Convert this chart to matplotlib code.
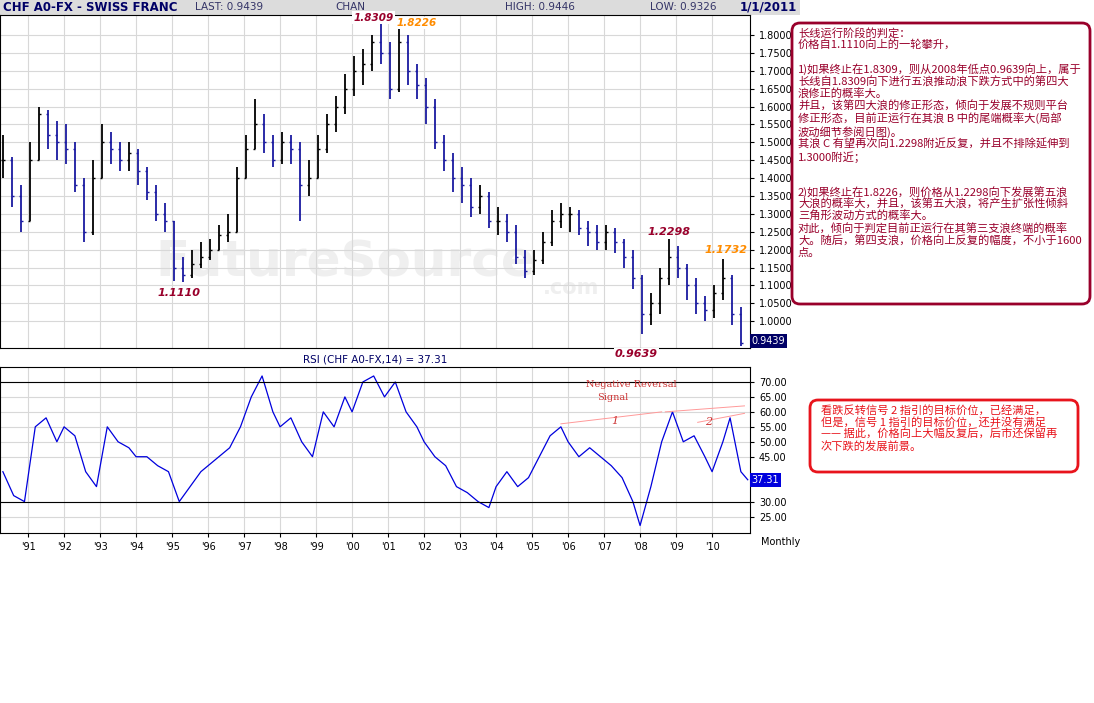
import matplotlib
matplotlib.use('Agg')
import matplotlib.pyplot as plt
from matplotlib.patches import FancyBboxPatch, Rectangle
import numpy as np

plt.rcParams['font.family'] = ['DejaVu Sans']

# quarterly price bars (time in years)
q_time = [1990.3 + 0.25 * i for i in range(83)]
q_close = [1.45, 1.35, 1.28,
           1.45, 1.58, 1.52, 1.50,
           1.48, 1.38, 1.25, 1.40,
           1.50, 1.48, 1.45, 1.47,
           1.42, 1.36, 1.30, 1.28,
           1.15, 1.13, 1.16, 1.18,
           1.20, 1.24, 1.25, 1.40,
           1.48, 1.55, 1.50, 1.45,
           1.50, 1.48, 1.38, 1.40,
           1.48, 1.55, 1.60, 1.65,
           1.70, 1.72, 1.78, 1.75,
           1.65, 1.78, 1.70, 1.66,
           1.60, 1.50, 1.45, 1.40,
           1.38, 1.32, 1.35, 1.28,
           1.28, 1.25, 1.18, 1.14,
           1.17, 1.22, 1.28, 1.30,
           1.30, 1.26, 1.25, 1.22,
           1.25, 1.22, 1.18, 1.12,
           1.02, 1.05, 1.12, 1.18,
           1.15, 1.10, 1.05, 1.03,
           1.08, 1.12, 1.02, 0.94]
q_high = [1.52, 1.46, 1.38,
          1.50, 1.60, 1.59, 1.56,
          1.55, 1.50, 1.40, 1.45,
          1.55, 1.53, 1.50, 1.50,
          1.48, 1.43, 1.38, 1.33,
          1.28, 1.18, 1.20, 1.22,
          1.23, 1.27, 1.30, 1.43,
          1.52, 1.62, 1.58, 1.52,
          1.53, 1.52, 1.50, 1.45,
          1.52, 1.58, 1.63, 1.69,
          1.74, 1.76, 1.80, 1.8309,
          1.78, 1.8226, 1.80, 1.72,
          1.68, 1.62, 1.52, 1.47,
          1.43, 1.40, 1.38, 1.36,
          1.32, 1.30, 1.27, 1.20,
          1.20, 1.25, 1.31, 1.33,
          1.32, 1.31, 1.28, 1.27,
          1.27, 1.26, 1.23, 1.20,
          1.13, 1.08, 1.15, 1.2298,
          1.21, 1.16, 1.12, 1.07,
          1.10, 1.1732, 1.13, 1.04]
q_low = [1.40, 1.32, 1.25,
         1.28, 1.45, 1.48, 1.45,
         1.44, 1.36, 1.22, 1.24,
         1.40, 1.44, 1.42, 1.42,
         1.38, 1.34, 1.28, 1.25,
         1.1110, 1.11, 1.12, 1.15,
         1.17, 1.20, 1.22, 1.25,
         1.40, 1.48, 1.47, 1.43,
         1.44, 1.44, 1.28, 1.35,
         1.40, 1.47, 1.53, 1.58,
         1.63, 1.66, 1.70, 1.72,
         1.62, 1.64, 1.66, 1.62,
         1.55, 1.48, 1.42, 1.36,
         1.33, 1.29, 1.30, 1.26,
         1.24, 1.22, 1.16, 1.12,
         1.13, 1.16, 1.21, 1.26,
         1.25, 1.24, 1.21, 1.20,
         1.20, 1.19, 1.15, 1.09,
         0.9639, 0.99, 1.02, 1.10,
         1.12, 1.06, 1.02, 1.00,
         1.01, 1.06, 0.99, 0.93]

rsi_time = [1990.3, 1990.6, 1990.9, 1991.2, 1991.5, 1991.8, 1992.0, 1992.3, 1992.6, 1992.9,
            1993.2, 1993.5, 1993.8, 1994.0, 1994.3, 1994.6, 1994.9, 1995.2, 1995.5, 1995.8,
            1996.0, 1996.3, 1996.6, 1996.9, 1997.2, 1997.5, 1997.8, 1998.0, 1998.3, 1998.6,
            1998.9, 1999.2, 1999.5, 1999.8, 2000.0, 2000.3, 2000.6, 2000.9, 2001.2, 2001.5,
            2001.8, 2002.0, 2002.3, 2002.6, 2002.9, 2003.2, 2003.5, 2003.8, 2004.0, 2004.3,
            2004.6, 2004.9, 2005.2, 2005.5, 2005.8, 2006.0, 2006.3, 2006.6, 2006.9, 2007.2,
            2007.5, 2007.8, 2008.0, 2008.3, 2008.6, 2008.9, 2009.2, 2009.5, 2009.8, 2010.0,
            2010.3, 2010.5, 2010.8, 2010.99]
rsi_vals = [40, 32, 30, 55, 58, 50, 55, 52, 40, 35,
            55, 50, 48, 45, 45, 42, 40, 30, 35, 40,
            42, 45, 48, 55, 65, 72, 60, 55, 58, 50,
            45, 60, 55, 65, 60, 70, 72, 65, 70, 60,
            55, 50, 45, 42, 35, 33, 30, 28, 35, 40,
            35, 38, 45, 52, 55, 50, 45, 48, 45, 42,
            38, 30, 22, 35, 50, 60, 50, 52, 45, 40,
            50, 58, 40, 37.31]

price_ticks = [1.0, 1.05, 1.10, 1.15, 1.20, 1.25, 1.30, 1.35, 1.40, 1.45, 1.50,
               1.55, 1.60, 1.65, 1.70, 1.75, 1.80]
rsi_ticks = [25, 30, 45, 50, 55, 60, 65, 70]
year_labels = ["'91", "'92", "'93", "'94", "'95", "'96", "'97", "'98", "'99", "'00",
               "'01", "'02", "'03", "'04", "'05", "'06", "'07", "'08", "'09", "'10"]

W, H = 1094, 703
fig = plt.figure(figsize=(W / 100, H / 100), dpi=100)
navy = '#000066'
x0, x1 = 1990.22, 1990.22 + 750 / 36

def fr(l, t, r, b):
    return [l / W, 1 - b / H, (r - l) / W, (b - t) / H]

# header bar
hdr = fig.add_axes(fr(0, 0, 800, 15))
hdr.set_xlim(0, 800); hdr.set_ylim(15, 0); hdr.axis('off')
hdr.add_patch(Rectangle((0, 0), 800, 15, color='#dcdcdc'))
hdr.text(3, 7.5, 'CHF A0-FX - SWISS FRANC', color=navy, fontsize=8.5, weight='bold', va='center')
hdr.text(195, 7.5, 'LAST: 0.9439', color='#333366', fontsize=7.5, va='center')
hdr.text(335, 7.5, 'CHAN', color='#333366', fontsize=7.5, va='center')
hdr.text(505, 7.5, 'HIGH: 0.9446', color='#333366', fontsize=7.5, va='center')
hdr.text(650, 7.5, 'LOW: 0.9326', color='#333366', fontsize=7.5, va='center')
hdr.text(797, 7.5, '1/1/2011', color=navy, fontsize=8.5, weight='bold', va='center', ha='right')

# price panel
ax = fig.add_axes(fr(0, 15, 750, 348))
ax.set_xlim(x0, x1)
ax.set_ylim(0.925, 1.856)
for t, c, h, l, i in zip(q_time, q_close, q_high, q_low, range(len(q_time))):
    o = q_close[i - 1] if i > 0 else c
    col = '#1a1aa0' if c < o else 'black'
    ax.vlines(t, l, h, color=col, lw=1.3)
    ax.hlines(o, t - 0.06, t, color=col, lw=1.0)
    ax.hlines(c, t, t + 0.06, color=col, lw=1.0)
ax.yaxis.tick_right()
ax.set_yticks(price_ticks)
ax.set_yticklabels(['%.4f' % v for v in price_ticks], fontsize=7)
ax.set_xticks(np.arange(1991, 2011))
ax.tick_params(axis='x', labelbottom=False, length=0)
ax.tick_params(axis='y', length=3)
ax.grid(color='#d8d8d8', lw=0.8)
ax.set_axisbelow(True)
ax.text(1999.8, 1.125, 'FutureSource', fontsize=36, weight='bold', color='#efefef', ha='center', zorder=0)
ax.text(2005.3, 1.075, '.com', fontsize=15, weight='bold', color='#efefef', zorder=0)
ax.text(1995.2, 1.07, '1.1110', color='#99002b', fontsize=8, style='italic', weight='bold', ha='center')
ax.text(2008.8, 1.24, '1.2298', color='#99002b', fontsize=8, style='italic', weight='bold', ha='center')
ax.text(2010.4, 1.19, '1.1732', color='#ff8c00', fontsize=8, style='italic', weight='bold', ha='center')
ax.text(2000.6, 1.84, '1.8309', color='#99002b', fontsize=7.5, style='italic', weight='bold', ha='center',
        bbox=dict(fc='white', ec='none', pad=1), clip_on=False)
ax.text(2001.8, 1.825, '1.8226', color='#ff8c00', fontsize=7.5, style='italic', weight='bold', ha='center',
        bbox=dict(fc='white', ec='none', pad=1), clip_on=False)
ax.text(2007.9, 0.90, '0.9639', color='#99002b', fontsize=8, style='italic', weight='bold', ha='center',
        bbox=dict(fc='white', ec='none', pad=1), clip_on=False)
ax.text(x1 + 0.05, 0.9439, '0.9439', color='white', fontsize=7, va='center',
        bbox=dict(fc=navy, ec='none', pad=1.5), clip_on=False)

# RSI title
fig.text(375 / W, 1 - 359 / H, 'RSI (CHF A0-FX,14) = 37.31', color=navy, fontsize=7.5, ha='center', va='center')

# RSI panel
rx = fig.add_axes(fr(0, 367, 750, 533))
rx.set_xlim(x0, x1)
rx.set_ylim(19.5, 75)
rx.plot(rsi_time, rsi_vals, color='#0000dd', lw=0.9)
rx.axhline(70, color='black', lw=0.8)
rx.axhline(30, color='black', lw=0.8)
rx.yaxis.tick_right()
rx.set_yticks(rsi_ticks)
rx.set_yticklabels(['%.2f' % v for v in rsi_ticks], fontsize=7)
rx.set_xticks(np.arange(1991, 2011))
rx.set_xticklabels(year_labels, fontsize=7)
rx.tick_params(length=3)
rx.grid(color='#d8d8d8', lw=0.8)
rx.set_axisbelow(True)
rx.text(x1 + 0.3, 15.5, 'Monthly', fontsize=7, clip_on=False)
rx.text(x1 + 0.05, 37.31, '37.31', color='white', fontsize=7, va='center',
        bbox=dict(fc='#0000dd', ec='none', pad=1.5), clip_on=False)
rx.text(2006.5, 70.5, 'Negative Reversal', color='#cc3333', fontsize=7, family='serif', va='top')
rx.text(2006.8, 66.2, 'Signal', color='#cc3333', fontsize=7, family='serif', va='top')
rx.plot([2005.8, 2008.6], [56, 60], color='#ff9999', lw=0.7)
rx.plot([2008.7, 2010.9], [60, 62], color='#ff9999', lw=0.7)
rx.plot([2009.6, 2010.9], [56.5, 59.5], color='#ff9999', lw=0.7)
rx.text(2007.2, 56, '1', color='#cc3333', fontsize=8, style='italic', family='serif')
rx.text(2009.8, 55.5, '2', color='#cc3333', fontsize=8, style='italic', family='serif')

# annotation boxes
ov = fig.add_axes([0, 0, 1, 1]); ov.set_xlim(0, W); ov.set_ylim(H, 0); ov.axis('off')
ov.add_patch(FancyBboxPatch((792, 23), 298, 281, boxstyle='round,pad=0,rounding_size=8',
                            fc='white', ec='#99002b', lw=2))
cjk = ['Noto Sans CJK SC', 'DejaVu Sans']
txt1 = ('长线运行阶段的判定：\n价格自1.1110向上的一轮攀升，\n\n'
        '1)如果终止在1.8309，则从2008年低点0.9639向上，属于\n长线自1.8309向下进行五浪推动浪下跌方式中的第四大\n浪修正的概率大。\n'
        '并且，该第四大浪的修正形态，倾向于发展不规则平台\n修正形态，目前正运行在其浪 B 中的尾端概率大(局部\n波动细节参阅日图)。\n'
        '其浪 C 有望再次向1.2298附近反复，并且不排除延伸到\n1.3000附近；\n\n\n'
        '2)如果终止在1.8226，则价格从1.2298向下发展第五浪\n大浪的概率大，并且，该第五大浪，将产生扩张性倾斜\n三角形波动方式的概率大。\n'
        '对此，倾向于判定目前正运行在其第三支浪终端的概率\n大。随后，第四支浪，价格向上反复的幅度，不小于1600\n点。')
ov.text(798, 28, txt1, family=cjk, fontsize=8.1, color='#99002b', va='top', linespacing=1.12)
ov.add_patch(FancyBboxPatch((810, 400), 268, 72, boxstyle='round,pad=0,rounding_size=8',
                            fc='white', ec='#e8141c', lw=2))
txt2 = ('看跌反转信号 2 指引的目标价位，已经满足，\n但是，信号 1 指引的目标价位，还并没有满足\n'
        '—— 据此，价格向上大幅反复后，后市还保留再\n次下跌的发展前景。')
ov.text(821, 405, txt2, family=cjk, fontsize=8.1, color='#e8141c', va='top', linespacing=1.12)

fig.savefig('out.png', dpi=100)
